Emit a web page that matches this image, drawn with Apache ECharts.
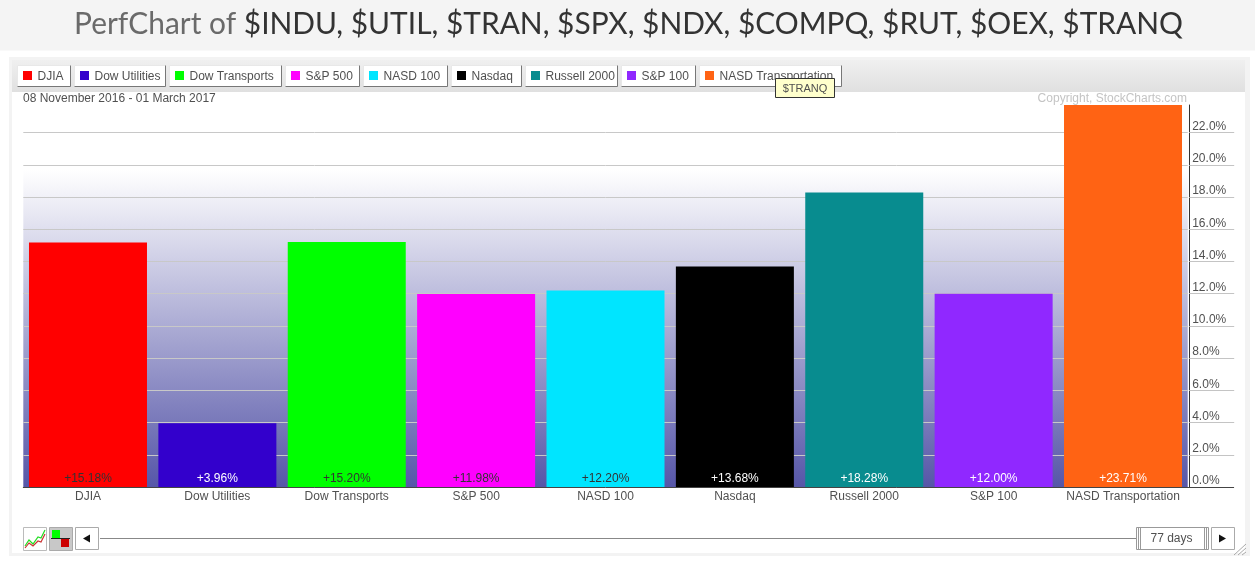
<!DOCTYPE html>
<html><head><meta charset="utf-8">
<style>html,body{margin:0;padding:0;background:#fff;overflow:hidden}#c{width:1255px;height:562px}</style>
<script src="https://cdn.jsdelivr.net/npm/echarts@6/dist/echarts.min.js"></script>
</head><body><div id="c"></div>
<script>
const categories = ['DJIA','Dow Utilities','Dow Transports','S&P 500','NASD 100','Nasdaq','Russell 2000','S&P 100','NASD Transportation'];
const perfValues = [15.18,3.96,15.20,11.98,12.20,13.68,18.28,12.00,23.71];
const barColors = ['#ff0000','#3300cc','#00ff00','#ff00ff','#00e5ff','#000000','#088c8f','#9028ff','#ff6314'];
const labelColors = ['#333','#fff','#333','#333','#333','#fff','#fff','#fff','#fff'];
const yTicks = [0,2,4,6,8,10,12,14,16,18,20,22];
const legendLefts = [17,74,169,285,363,451,525,621,699];
const legendRights = [70,165,281,359,447,521,617,695,841];
const titleLead = 'PerfChart of ';
const titleTickers = '$INDU, $UTIL, $TRAN, $SPX, $NDX, $COMPQ, $RUT, $OEX, $TRANQ';
const dateRange = '08 November 2016 - 01 March 2017';
const copyrightText = 'Copyright, StockCharts.com';
const tooltipText = '$TRANQ';
const periodText = '77 days';

const FONT = '"Liberation Sans", Arial, sans-serif';
const TXT = '#505050';
const g = [];
const rect = (x,y,w,h,fill,stroke,z,lw) => g.push({type:'rect',z:z,silent:true,shape:{x,y,width:w,height:h},style:{fill:fill||'transparent',stroke:stroke||null,lineWidth:lw||1}});
const line = (x1,y1,x2,y2,stroke,z,lw) => g.push({type:'line',z:z,silent:true,shape:{x1,y1,x2,y2},style:{stroke,lineWidth:lw||1}});
const text = (x,y,t,fill,align,z,size) => g.push({type:'text',z:z,silent:true,x,y,style:{text:t,fill,font:(size||12)+'px '+FONT,textAlign:align||'left',textVerticalAlign:'middle'}});
const poly = (pts,stroke,z,lw) => g.push({type:'polyline',z:z,silent:true,shape:{points:pts},style:{stroke,fill:null,lineWidth:lw||1}});
const tri = (pts,fill,z) => g.push({type:'polygon',z:z,silent:true,shape:{points:pts},style:{fill}});

// page bands and panel
rect(0,0,1255,50.5,'#f4f4f4',null,-20);
rect(9,57,1241,499,'#f3f3f3',null,-20);
rect(12,92,1233,461,'#ffffff',null,-19);
g.push({type:'rect',z:-19,silent:true,shape:{x:12,y:60,width:1233,height:32},style:{fill:new echarts.graphic.LinearGradient(0,0,0,1,[{offset:0,color:'#f0f0f0'},{offset:1,color:'#e0e0e0'}])}});

// legend buttons
categories.forEach((name,i)=>{
  const l=legendLefts[i], r=legendRights[i];
  rect(l+.5,65.5,r-l,21,'#ffffff',null,5);
  line(l+.5,65.5,r+.5,65.5,'#e8e8e8',6);
  line(l+.5,65.5,l+.5,86.5,'#e8e8e8',6);
  line(r+.5,65.5,r+.5,86.5,'#777',6);
  line(l+.5,86.5,r+.5,86.5,'#777',6);
  rect(l+6,71,9,9,barColors[i],null,6);
  text(l+20.5,76.5,name,TXT,'left',6);
});
// hover tooltip
rect(775.5,78.5,59,19,'#ffffcc','#333',8);
text(805,88.5,tooltipText,TXT,'center',9,11);

text(23,98.5,dateRange,TXT,'left',6);
text(1187,98.5,copyrightText,'#c4c4c4','right',6);

// baseline extension under the value labels
line(1188,487.5,1234,487.5,'#444',6);

// bottom controls
rect(23.5,527.5,23,23,'#fff','#bbb',6);
poly([[25,546],[29,540],[33,544],[38,537],[41,538],[45,530]],'#22dd22',7,1.2);
poly([[25,548],[29,543],[33,546],[38,541],[41,542],[45,534]],'#cc3333',7,1.2);
rect(49.5,527.5,23,23,'#c8c8c8','#aaa',6);
rect(52,530,8,8,'#00ff00',null,7);
rect(61,539,8,8,'#cc0000',null,7);
line(51,538.5,70,538.5,'#222',7);
rect(75.5,527.5,23,22,'#fff','#aaa',6);
tri([[83,538.5],[90,534.5],[90,542.5]],'#111',7);
line(100,538.5,1136,538.5,'#888',6);
rect(1136.5,527.5,72,22,'#fff','#999',6);
[1138.5,1140.5,1204.5,1206.5].forEach(x=>line(x,528,x,549,'#999',7));
text(1171.5,538.5,periodText,TXT,'center',7);
rect(1211.5,527.5,23,22,'#fff','#aaa',6);
tri([[1226,538.5],[1219,534.5],[1219,542.5]],'#111',7);
[[1234,555,1246,544],[1238,555,1246,548],[1242,555,1246,552]].forEach(p=>line(p[0],p[1],p[2],p[3],'#aaa',7));

const chart = echarts.init(document.getElementById('c'),null,{renderer:'canvas',width:1255,height:562});
chart.setOption({
  animation:false,
  backgroundColor:'#ffffff',
  title:{left:623.5,top:4,textAlign:'center',
    text:'{a|'+titleLead+'}{b|'+titleTickers+'}',
    textStyle:{fontWeight:'normal',rich:{a:{fontFamily:'Lato',fontWeight:'normal',fontSize:29.9,color:'#6a6a6a'},b:{fontFamily:'Lato',fontWeight:'normal',fontSize:29.9,color:'#333'}}}},
  grid:{left:23.3,right:1255-1187.7,top:105,bottom:75,show:true,borderWidth:0,
    backgroundColor:new echarts.graphic.LinearGradient(0,0,0,1,[{offset:0,color:'#ffffff'},{offset:.17,color:'#ffffff'},{offset:1,color:'#5656a8'}])},
  xAxis:{type:'category',data:categories,
    axisLine:{lineStyle:{color:'#444',width:1}},axisTick:{show:false},
    axisLabel:{color:TXT,fontFamily:FONT,fontSize:12,margin:4,interval:0}},
  yAxis:{type:'value',position:'right',offset:1.5,min:0,max:23.71,
    axisLine:{show:true,lineStyle:{color:'#333',width:1}},
    axisTick:{show:true,length:45,customValues:yTicks,lineStyle:{color:'#c4c4c4'}},
    splitLine:{show:true,lineStyle:{color:'#c8c8c8',width:1}},
    axisLabel:{customValues:yTicks,color:TXT,fontFamily:FONT,fontSize:12,margin:3,verticalAlign:'bottom',align:'left',
      formatter:v=>v.toFixed(1)+'%'}},
  series:[{type:'bar',barWidth:118,
    data:perfValues.map((v,i)=>({value:v,itemStyle:{color:barColors[i]},
      label:{color:labelColors[i]}})),
    label:{show:true,position:'insideBottom',distance:2,fontFamily:FONT,fontSize:12,
      formatter:p=>'+'+p.value.toFixed(2)+'%'}}],
  graphic:{elements:g}
});
</script></body></html>
